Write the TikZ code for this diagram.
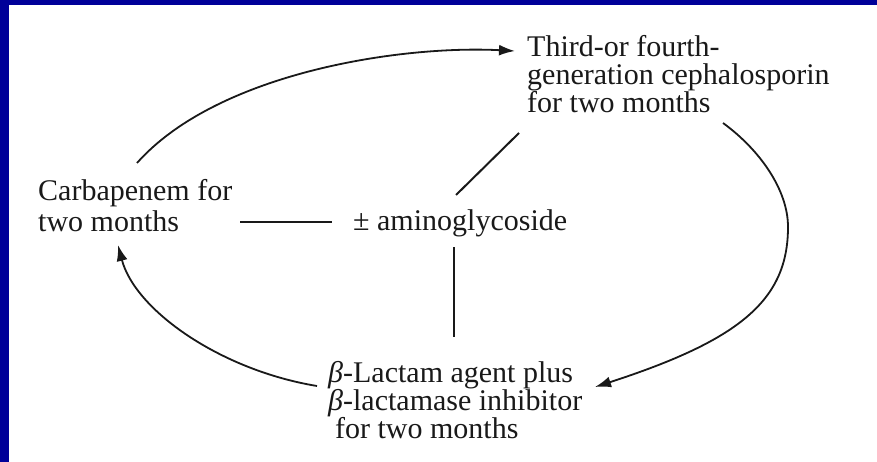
\documentclass[tikz,border=0pt]{standalone}
\usepackage{fontspec}
\setmainfont{Liberation Serif}
\usetikzlibrary{arrows.meta}
\definecolor{frameblue}{RGB}{0,0,153}
\definecolor{ink}{RGB}{25,25,25}
\begin{document}
\begin{tikzpicture}[x=1pt,y=-1pt,
  lbl/.style={anchor=base west,inner sep=0pt,align=left,text=ink,font=\fontsize{30}{28}\selectfont},
  link/.style={line width=2pt,ink},
  cyc/.style={line width=1.8pt,ink,-{Latex[length=16pt,width=11pt]}}]
\useasboundingbox (0,0) rectangle (877,462);
\fill[white] (0,0) rectangle (877,462);
\fill[frameblue] (0,0) rectangle (877,5);
\fill[frameblue] (0,0) rectangle (9,462);
% texts (anchor = baseline of the last line)
\node[lbl] (ceph) at (527,113) {Third-or fourth-\\generation cephalosporin\\for two months};
\node[lbl,font=\fontsize{30}{32}\selectfont] (carb) at (38,232) {Carbapenem for\\two months};
\node[lbl] (amino) at (353,230) {± aminoglycoside};
\node[lbl] (beta) at (328,438) {{\itshape β}-Lactam agent plus\\{\itshape β}-lactamase inhibitor\\\hspace{7pt}for two months};
% connector end points
\coordinate (carbE) at (240,222);
\coordinate (aminoW) at (332,222);
\coordinate (aminoNE) at (456,195);
\coordinate (cephSW) at (519,133);
\coordinate (aminoS) at (454,247);
\coordinate (betaN) at (454,337);
\coordinate (carbN) at (137,163);
\coordinate (cephW) at (515,51);
\coordinate (cephS) at (723,123);
\coordinate (rmost) at (788,227);
\coordinate (betaE) at (595,387);
\coordinate (betaW) at (317,386);
\coordinate (carbS) at (118,245);
% plain links
\draw[link] (carbE) -- (aminoW);
\draw[link] (aminoNE) -- (cephSW);
\draw[link] (aminoS) -- (betaN);
% cycle arrows
\draw[cyc] (carbN) .. controls (217,73) and (400,45) .. (cephW);
\draw[cyc] (cephS) .. controls (760,150) and (788,190) .. (rmost)
   .. controls (788,300) and (740,340) .. (betaE);
\draw[cyc] (betaW) .. controls (220,370) and (135,310) .. (carbS);
\end{tikzpicture}
\end{document}
